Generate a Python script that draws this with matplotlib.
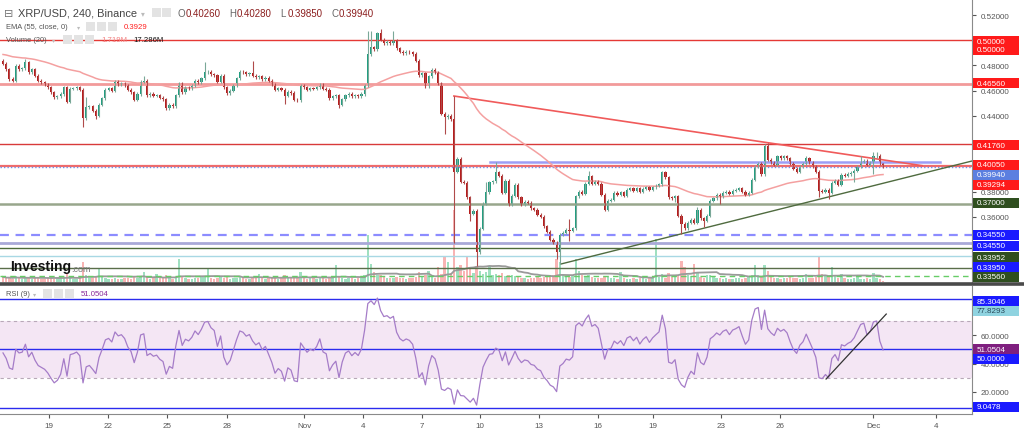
import numpy as np
import pandas as pd
import matplotlib
matplotlib.use("Agg")
import matplotlib.pyplot as plt
from matplotlib.patches import Rectangle
from matplotlib.lines import Line2D

# ---------------- data ----------------
first_open = 0.4838
closes = [
    0.4812, 0.4772, 0.4693, 0.4680, 0.4798, 0.4772, 0.4777, 0.4825, 0.4746, 0.4772,
    0.4719, 0.4680, 0.4666, 0.4653, 0.4627, 0.4587, 0.4548, 0.4556, 0.4574, 0.4627,
    0.4513, 0.4614, 0.4619, 0.4627, 0.4608, 0.4381, 0.4468, 0.4476, 0.4442, 0.4402,
    0.4487, 0.4540, 0.4608, 0.4619, 0.4600, 0.4672, 0.4653, 0.4661, 0.4645, 0.4608,
    0.4587, 0.4529, 0.4574, 0.4672, 0.4680, 0.4566, 0.4577, 0.4561, 0.4566, 0.4545,
    0.4534, 0.4460, 0.4487, 0.4476, 0.4566, 0.4661, 0.4587, 0.4627, 0.4619, 0.4640,
    0.4680, 0.4666, 0.4698, 0.4746, 0.4751, 0.4732, 0.4724, 0.4672, 0.4719, 0.4627,
    0.4582, 0.4600, 0.4645, 0.4698, 0.4751, 0.4746, 0.4732, 0.4740, 0.4719, 0.4706,
    0.4714, 0.4693, 0.4703, 0.4680, 0.4653, 0.4608, 0.4619, 0.4608, 0.4561, 0.4592,
    0.4582, 0.4529, 0.4524, 0.4645, 0.4627, 0.4608, 0.4619, 0.4614, 0.4627, 0.4653,
    0.4614, 0.4608, 0.4540, 0.4556, 0.4566, 0.4487, 0.4534, 0.4566, 0.4574, 0.4556,
    0.4566, 0.4556, 0.4574, 0.4645, 0.4891, 0.4944, 0.4930, 0.5057, 0.5004, 0.4978,
    0.4988, 0.4978, 0.4996, 0.4936, 0.4909, 0.4899, 0.4909, 0.4904, 0.4891, 0.4838,
    0.4724, 0.4740, 0.4635, 0.4714, 0.4767, 0.4746, 0.4661, 0.4416, 0.4389, 0.4402,
    0.4376, 0.3959, 0.4059, 0.3880, 0.3869, 0.3756, 0.3624, 0.3650, 0.3320, 0.3505,
    0.3703, 0.3795, 0.3874, 0.3882, 0.3954, 0.3927, 0.3790, 0.3888, 0.3695, 0.3769,
    0.3853, 0.3756, 0.3695, 0.3721, 0.3711, 0.3668, 0.3658, 0.3616, 0.3600, 0.3526,
    0.3484, 0.3420, 0.3394, 0.3320, 0.3457, 0.3473, 0.3500, 0.3492, 0.3510, 0.3764,
    0.3800, 0.3782, 0.3861, 0.3922, 0.3861, 0.3880, 0.3861, 0.3774, 0.3658, 0.3729,
    0.3737, 0.3790, 0.3774, 0.3795, 0.3769, 0.3816, 0.3827, 0.3808, 0.3827, 0.3800,
    0.3822, 0.3835, 0.3816, 0.3835, 0.3848, 0.3860, 0.3954, 0.3914, 0.3756, 0.3748,
    0.3764, 0.3610, 0.3544, 0.3510, 0.3552, 0.3579, 0.3552, 0.3658, 0.3589, 0.3571,
    0.3610, 0.3729, 0.3748, 0.3774, 0.3764, 0.3790, 0.3800, 0.3782, 0.3808, 0.3816,
    0.3827, 0.3800, 0.3774, 0.3790, 0.3896, 0.4001, 0.4020, 0.3940, 0.4160, 0.4054,
    0.4028, 0.4012, 0.4080, 0.4064, 0.4080, 0.4064, 0.4020, 0.3980, 0.3959, 0.4001,
    0.4020, 0.4064, 0.4033, 0.4001, 0.3959, 0.3808, 0.3800, 0.3816, 0.3790, 0.3869,
    0.3888, 0.3853, 0.3933, 0.3927, 0.3940, 0.3948, 0.3967, 0.4001, 0.4038, 0.4046,
    0.4012, 0.4028, 0.4080, 0.4085, 0.4026, 0.3994,
]
wick_highs = {0: 0.4850, 7: 0.4850, 26: 0.4548, 44: 0.4719, 63: 0.4825, 78: 0.4838,
              114: 0.5076, 115: 0.5076, 118: 0.5089, 122: 0.5076, 141: 0.4558,
              151: 0.3874, 154: 0.4033, 177: 0.3584, 183: 0.3967, 206: 0.3967,
              217: 0.3676, 238: 0.4178, 239: 0.4186, 251: 0.4086, 268: 0.4086,
              272: 0.4112, 273: 0.4112, 275: 0.4028}
wick_lows = {25: 0.4310, 29: 0.4376, 88: 0.4495, 105: 0.4460, 138: 0.4257,
             141: 0.3394, 146: 0.3571, 148: 0.3214, 173: 0.3267, 174: 0.3228,
             177: 0.3412, 210: 0.3716, 212: 0.3465, 219: 0.3518, 224: 0.3703,
             255: 0.3756, 258: 0.3742, 266: 0.3874, 272: 0.3940, 275: 0.3985}
volumes = [
    14, 10, 12, 9, 16, 11, 8, 13, 10, 9,
    12, 14, 9, 8, 10, 12, 9, 11, 13, 10,
    25, 12, 9, 8, 10, 55, 20, 12, 10, 14,
    38, 15, 10, 8, 9, 12, 9, 8, 10, 11,
    9, 13, 10, 14, 27, 15, 9, 10, 22, 12,
    10, 18, 12, 9, 14, 63, 16, 10, 8, 9,
    10, 12, 14, 16, 38, 12, 9, 11, 13, 10,
    14, 9, 10, 12, 15, 10, 8, 9, 12, 10,
    22, 10, 9, 11, 12, 14, 9, 10, 20, 12,
    10, 13, 15, 27, 12, 9, 10, 11, 9, 12,
    10, 9, 14, 12, 47, 16, 11, 9, 10, 12,
    9, 10, 12, 18, 129, 49, 27, 20, 18, 14,
    12, 10, 11, 15, 12, 10, 9, 11, 10, 14,
    27, 14, 18, 30, 16, 12, 41, 22, 68, 55,
    24, 197, 41, 46, 30, 68, 36, 25, 44, 30,
    22, 28, 44, 20, 22, 18, 24, 16, 20, 19,
    16, 14, 12, 10, 9, 11, 12, 13, 10, 15,
    14, 16, 18, 63, 55, 20, 16, 14, 18, 63,
    30, 18, 16, 20, 14, 12, 10, 12, 16, 14,
    11, 10, 9, 27, 10, 9, 8, 10, 9, 11,
    10, 9, 12, 10, 118, 14, 22, 12, 25, 14,
    16, 20, 58, 41, 18, 16, 49, 28, 14, 12,
    18, 20, 14, 10, 12, 9, 10, 8, 9, 11,
    10, 9, 12, 14, 20, 47, 18, 14, 47, 30,
    14, 12, 10, 9, 11, 10, 13, 12, 10, 9,
    11, 22, 12, 10, 14, 68, 22, 16, 14, 41,
    20, 12, 22, 10, 9, 8, 10, 18, 9, 8,
    10, 9, 24, 12, 8, 1.719,
]
ema_seed = 0.4890
rsi_seed_gain = 0.0030
rsi_seed_loss = 0.0030

date_tick_pos = [14.4, 32.8, 51.2, 70.0, 94.1, 112.5, 130.9, 149.1, 167.5, 186.0,
                 203.1, 224.4, 242.8, 271.9, 291.6]
date_tick_labels = ["19", "22", "25", "28", "Nov", "4", "7", "10", "13", "16",
                    "19", "23", "26", "Dec", "4"]
price_ticks = [0.36, 0.38, 0.44, 0.46, 0.48, 0.52]
rsi_ticks = [20, 40, 60]

level_top = 0.5000
level_4656 = 0.4656
level_4176 = 0.4176
level_4005 = 0.4005
level_last = 0.3994
level_0370 = 0.3700
level_3455 = 0.3455
level_3393 = 0.3393
level_3354 = 0.3354
level_3290 = 0.3290
level_3195 = 0.3195
level_3132 = 0.3132
blue_seg_x = [152.2, 292.8]
blue_seg_y = [0.4033, 0.4033]
resist_x = [140.9, 287.2]
resist_y = [0.4558, 0.4006]
support_x = [174.4, 302.8]
support_y = [0.3227, 0.4043]
rsi_levels_blue = [85.3046, 50.0, 9.0478]
rsi_band = [30, 70]
rsi_trend_x = [257.2, 276.0]
rsi_trend_y = [29.1, 74.7]

price_tags = [("0.50000", "#ff1a1a"), ("0.50000", "#ff1a1a"), ("0.46560", "#ff1a1a"),
              ("0.41760", "#ff1a1a"), ("0.40050", "#ff1a1a"), ("0.39940", "#5b7fe0"),
              ("0.39294", "#ff1a1a"), ("0.37000", "#2f4f1f"), ("0.34550", "#1a1aff"),
              ("0.34550", "#1a1aff"), ("0.33952", "#2f4f1f"), ("0.33950", "#1a1aff"),
              ("0.33560", "#2f4f1f")]
price_tag_ypx = [42, 51, 84, 146, 166, 176, 186, 204, 236, 247, 258, 268, 278]
rsi_tags = [("85.3046", "#1a1aff"), ("77.8293", "#8fd3e0"), ("51.0504", "#7f1f7f"),
            ("50.0000", "#1a1aff"), ("9.0478", "#1a1aff")]
rsi_tag_ypx = [302, 312, 350, 360, 408]

# ---------------- derived series ----------------
c = np.array(closes)
o = np.concatenate([[first_open], c[:-1]])
n = len(c)
idx = np.arange(n)
hi = np.maximum(o, c) + 0.0012
lo = np.minimum(o, c) - 0.0012
for k, v in wick_highs.items():
    hi[k] = v
for k, v in wick_lows.items():
    lo[k] = v
up = c >= o

ema = []
e = ema_seed
a = 2 / 56
for v in c:
    e = e + a * (v - e)
    ema.append(e)
ema = np.array(ema)

rsi = []
g, l = rsi_seed_gain, rsi_seed_loss
for d in (c - o):
    g = g + (max(d, 0) - g) / 9
    l = l + (max(-d, 0) - l) / 9
    rsi.append(100 - 100 / (1 + g / l) if l > 0 else 100)
rsi = np.array(rsi)

vol = np.array(volumes, dtype=float)
vol_ma = pd.Series(vol).rolling(20, min_periods=1).mean().values

# ---------------- figure ----------------
plt.rcParams["font.family"] = ["Liberation Sans", "DejaVu Sans"]
W, H = 1024, 431
fig = plt.figure(figsize=(W / 100, H / 100), dpi=100)
fig.patch.set_facecolor("white")

def fx(x):
    return x / W

def fy(y):
    return 1 - y / H

XL = (-0.94, 302.8)
ax = fig.add_axes([0, fy(283), fx(972), 283 / H])
axv = ax.twinx()
ax.set_zorder(axv.get_zorder() + 1)
ax.patch.set_visible(False)
axr = fig.add_axes([0, fy(415), fx(972), (415 - 287) / H])

# volume overlay
vcol = np.where(up, "#9fe0c0", "#f8b4b4")
axv.bar(idx, vol, width=0.75, color=vcol, linewidth=0)
axv.plot(idx, vol_ma, color="#9a9a9a", lw=1.3)
axv.set_ylim(0, 774)
axv.set_xlim(*XL)
axv.axis("off")

# horizontal levels
ax.axhline(level_top, color="#e53935", lw=1.0)
ax.axhline(level_4656, color="#f29a9a", lw=2.0)
ax.axhline(level_4176, color="#d83a3a", lw=1.0)
ax.axhline(level_4005, color="#f06a6a", lw=1.6)
ax.axhline(level_last, color="#6f8fe8", lw=1.0, ls=(0, (1, 1.5)))
ax.axhline(level_0370, color="#98a68c", lw=1.8)
ax.axhline(level_3455, color="#8c8cff", lw=1.6, ls=(0, (4, 3)))
ax.axhline(level_3393, color="#a9a9d8", lw=2.0)
ax.axhline(level_3354, color="#4d6b3a", lw=1.0)
ax.axhline(level_3290, color="#a8d8e4", lw=1.0)
ax.axhline(level_3195, color="#5a6e4a", lw=1.0)
ax.axhline(level_3132, color="#66cc66", lw=1.0, ls=(0, (4, 3)))
ax.plot(blue_seg_x, blue_seg_y, color="#9d9df5", lw=1.8)
ax.plot(resist_x, resist_y, color="#f05a5a", lw=1.2)
ax.plot(support_x, support_y, color="#4f6b3f", lw=1.0)

# EMA
ax.plot(idx, ema, color="#f4a0a0", lw=1.1)

# candles
wcol = np.where(up, "#7aa898", "#b04a4a")
ax.vlines(idx, lo, hi, colors=wcol, lw=0.8)
body_col = np.where(up, "#1f9e80", "#b71c1c")
bh = np.maximum(np.abs(c - o), 0.0005)
ax.bar(idx, bh, bottom=np.minimum(o, c), width=0.68, color=body_col, linewidth=0)

ax.set_xlim(*XL)
ax.set_ylim(0.3084, 0.5327)
ax.yaxis.tick_right()
ax.set_yticks(price_ticks)
ax.set_yticklabels([f"{t:.5f}" for t in price_ticks])
ax.tick_params(axis="y", direction="out", length=3, width=0.8, pad=3,
               labelsize=5.8, colors="#555555")
ax.set_xticks([])
for s in ["top", "left", "bottom"]:
    ax.spines[s].set_visible(False)
ax.spines["right"].set_color("#8a8a8a")

# RSI pane
axr.axhspan(rsi_band[0], rsi_band[1], color="#f4e6f4", lw=0)
for lv in rsi_band:
    axr.axhline(lv, color="#b8a8b8", lw=0.8, ls=(0, (3, 3)))
for lv in rsi_levels_blue:
    axr.axhline(lv, color="#2b2bee", lw=1.0)
axr.plot(idx, rsi, color="#a57cc8", lw=0.9)
axr.plot(rsi_trend_x, rsi_trend_y, color="#333333", lw=0.9)
axr.set_xlim(*XL)
axr.set_ylim(4.56, 94.39)
axr.yaxis.tick_right()
axr.set_yticks(rsi_ticks)
axr.set_yticklabels([f"{t:.4f}" for t in rsi_ticks])
axr.tick_params(axis="y", direction="out", length=3, width=0.8, pad=3,
                labelsize=5.8, colors="#555555")
axr.set_xticks(date_tick_pos)
axr.set_xticklabels(date_tick_labels)
axr.tick_params(axis="x", direction="out", length=3, width=0.8, pad=3,
                labelsize=5.8, colors="#555555")
axr.spines["top"].set_visible(False)
axr.spines["left"].set_visible(False)
axr.spines["right"].set_color("#8a8a8a")
axr.spines["bottom"].set_color("#8a8a8a")
axr.patch.set_visible(False)

# pane separator
fig.add_artist(Line2D([0, 1], [fy(284.5), fy(284.5)], transform=fig.transFigure,
                      color="#4a4a4a", lw=2.6))

# axis tags
def tag(ypx, text, bg, fg="white"):
    fig.add_artist(Rectangle((fx(973), fy(ypx + 5)), fx(46), 10 / H,
                             transform=fig.transFigure, fc=bg, ec="none", zorder=5))
    fig.text(fx(977), fy(ypx), text, fontsize=5.8, color=fg, va="center",
             ha="left", zorder=6)

for (t, col), ypx in zip(price_tags, price_tag_ypx):
    tag(ypx, t, col)
for (t, col), ypx in zip(rsi_tags, rsi_tag_ypx):
    tag(ypx, t, col, fg="#ffffff" if col != "#8fd3e0" else "#2a4a5a")

# legend / header
def icon(x, y):
    fig.add_artist(Rectangle((fx(x), fy(y + 4)), fx(9), 9 / H, transform=fig.transFigure,
                             fc="#e3e3e3", ec="none", zorder=5))

fig.text(fx(4), fy(14), "\u229f", fontsize=8, color="#777777", va="center",
         family="DejaVu Sans")
fig.text(fx(18), fy(14), "XRP/USD, 240, Binance", fontsize=7.9, color="#444444",
         va="center")
fig.text(fx(141), fy(14), "\u25be", fontsize=5.5, color="#bbbbbb", va="center",
         family="DejaVu Sans")
icon(152, 14); icon(162, 14)
xs = 178
for lab, val in [("O", "0.40260"), ("H", "0.40280"), ("L", "0.39850"), ("C", "0.39940")]:
    fig.text(fx(xs), fy(14), lab, fontsize=7.0, color="#666666", va="center")
    fig.text(fx(xs + 8), fy(14), val, fontsize=7.0, color="#8b1e1e", va="center")
    xs += 51

fig.text(fx(6), fy(28), "EMA (55, close, 0)", fontsize=5.4, color="#555555", va="center")
fig.text(fx(77), fy(28), "\u25be", fontsize=4.5, color="#bbbbbb", va="center",
         family="DejaVu Sans")
icon(86, 28); icon(97, 28); icon(108, 28)
fig.text(fx(124), fy(28), "0.3929", fontsize=5.6, color="#ff2020", va="center")

fig.text(fx(6), fy(41), "Volume (20)", fontsize=5.4, color="#555555", va="center")
fig.text(fx(52), fy(41), "\u25be", fontsize=4.5, color="#bbbbbb", va="center",
         family="DejaVu Sans")
icon(63, 41); icon(74, 41); icon(85, 41)
fig.text(fx(101), fy(41), "1.719M", fontsize=5.6, color="#f28080", va="center")
fig.text(fx(133), fy(41), "17.286M", fontsize=5.6, color="#111111", va="center")

fig.text(fx(6), fy(295), "RSI (9)", fontsize=5.4, color="#555555", va="center")
fig.text(fx(33), fy(295), "\u25be", fontsize=4.5, color="#bbbbbb", va="center",
         family="DejaVu Sans")
icon(43, 295); icon(54, 295); icon(65, 295)
fig.text(fx(81), fy(295), "51.0504", fontsize=5.6, color="#8a2a9a", va="center")

# watermark
fig.text(fx(10), fy(267), "Investing", fontsize=10, fontweight="bold", color="#111111",
         va="center")
fig.text(fx(71), fy(270), ".com", fontsize=6.5, color="#777777", va="center")

fig.savefig("out.png", dpi=100, facecolor="white")
